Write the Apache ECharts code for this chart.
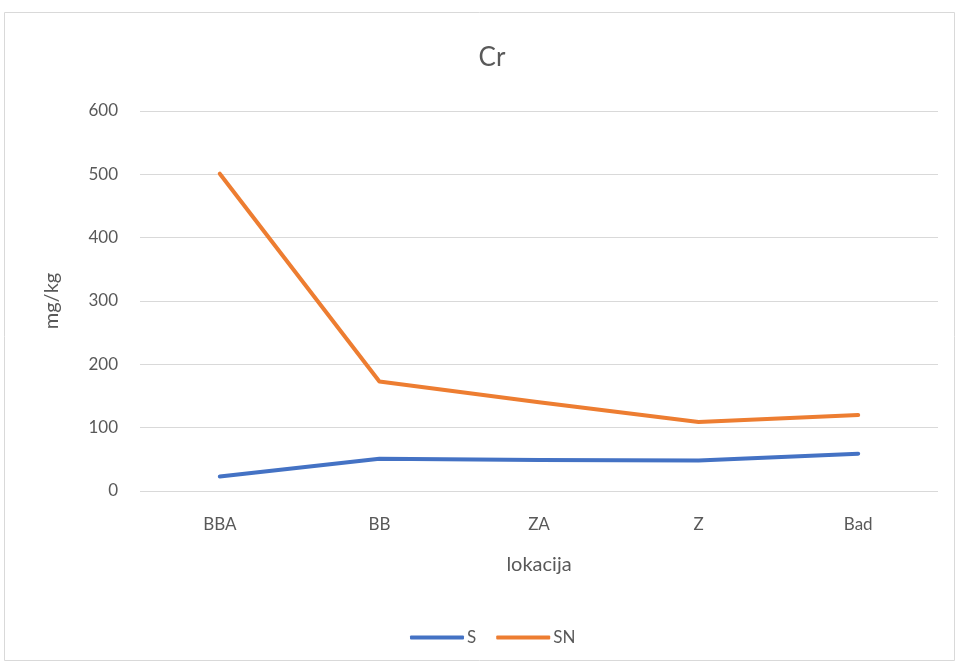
<!DOCTYPE html>
<html><head><meta charset="utf-8">
<script src="https://cdn.jsdelivr.net/npm/echarts@6/dist/echarts.min.js"></script>
<style>html,body{margin:0;padding:0;background:#fff}#c{width:959px;height:666px}</style>
</head><body><div id="c"></div>
<script>
const categories = ['BBA', 'BB', 'ZA', 'Z', 'Bad'];
const sValues = [23, 51, 49, 48, 59];
const snValues = [501, 173, 140, 109, 120];
const yTicks = { min: 0, max: 600, interval: 100 };
const titleText = 'Cr';
const xName = 'lokacija';
const yName = 'mg/kg';

const font = 'Lato, "Open Sans", sans-serif';
const chart = echarts.init(document.getElementById('c'), null, { renderer: 'canvas' });
chart.setOption({
  animation: false,
  backgroundColor: '#fff',
  graphic: [{
    type: 'rect', shape: { x: 4.5, y: 12.5, width: 950, height: 648 },
    style: { fill: 'none', stroke: '#d9d9d9', lineWidth: 1 }, silent: true
  }],
  title: {
    text: titleText, left: 487, top: 40, textAlign: 'center',
    textStyle: { fontFamily: font, fontSize: 26, fontWeight: 'normal', color: '#595959' }
  },
  grid: { left: 140, right: 21, top: 111, bottom: 175 },
  legend: {
    top: 624, left: 405, itemWidth: 54, itemHeight: 4, itemGap: 20,
    icon: 'roundRect',
    textStyle: { fontFamily: font, fontSize: 17, color: '#595959', padding: [0, 0, 0, -2] },
    data: ['S', 'SN']
  },
  xAxis: {
    type: 'category', data: categories, boundaryGap: true,
    name: xName, nameLocation: 'middle', nameGap: 64,
    nameTextStyle: { fontFamily: font, fontSize: 20, color: '#595959' },
    axisLine: { show: false }, axisTick: { show: false },
    axisLabel: { fontFamily: font, fontSize: 17, color: '#595959', margin: 25 }
  },
  yAxis: {
    type: 'value', min: yTicks.min, max: yTicks.max, interval: yTicks.interval,
    name: yName, nameLocation: 'middle', nameGap: 78, nameRotate: 90,
    nameTextStyle: { fontFamily: font, fontSize: 20, color: '#595959' },
    axisLine: { show: false }, axisTick: { show: false },
    axisLabel: { fontFamily: font, fontSize: 17, color: '#595959', margin: 22 },
    splitLine: { lineStyle: { color: '#d9d9d9', width: 1 } }
  },
  series: [
    { name: 'S', type: 'line', data: sValues, showSymbol: false, symbol: 'none',
      lineStyle: { color: '#4472C4', width: 4, cap: 'round', join: 'round' }, itemStyle: { color: '#4472C4' } },
    { name: 'SN', type: 'line', data: snValues, showSymbol: false, symbol: 'none',
      lineStyle: { color: '#ED7D31', width: 4, cap: 'round', join: 'round' }, itemStyle: { color: '#ED7D31' } }
  ]
});
</script></body></html>
